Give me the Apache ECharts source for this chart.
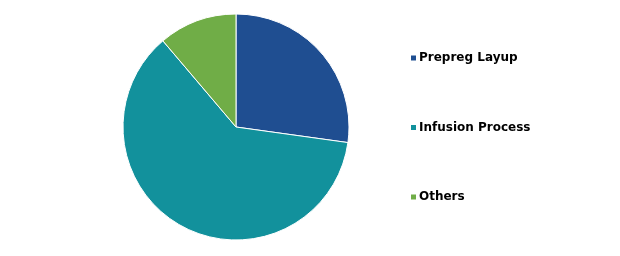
<!DOCTYPE html>
<html><head><meta charset="utf-8">
<script src="https://cdn.jsdelivr.net/npm/echarts@6/dist/echarts.min.js"></script>
<style>html,body{margin:0;padding:0;background:#fff}#c{width:620px;height:256px}</style>
</head><body><div id="c"></div>
<script>
const categories = ["Prepreg Layup", "Infusion Process", "Others"];
const values = [27.2, 61.6, 11.2];
const colors = ["#1F4E91", "#12919C", "#70AD47"];
const chart = echarts.init(document.getElementById('c'), null, {renderer:'canvas'});
chart.setOption({
  animation:false,
  color: colors,
  legend:{
    orient:'vertical', left:409, top:52, padding:0, itemGap:57.5,
    icon:'rect', itemWidth:7, itemHeight:7,
    textStyle:{fontFamily:'Verdana, DejaVu Sans', fontWeight:'bold', fontSize:12, color:'#000', padding:[0,0,0,-3]},
    data: categories
  },
  series:[{
    type:'pie', center:[236,127], radius:113, startAngle:90, clockwise:true,
    label:{show:false}, labelLine:{show:false},
    itemStyle:{borderColor:'#fff', borderWidth:1},
    emphasis:{disabled:true},
    data: categories.map((n,i)=>({name:n, value:values[i]}))
  }]
});
</script></body></html>
